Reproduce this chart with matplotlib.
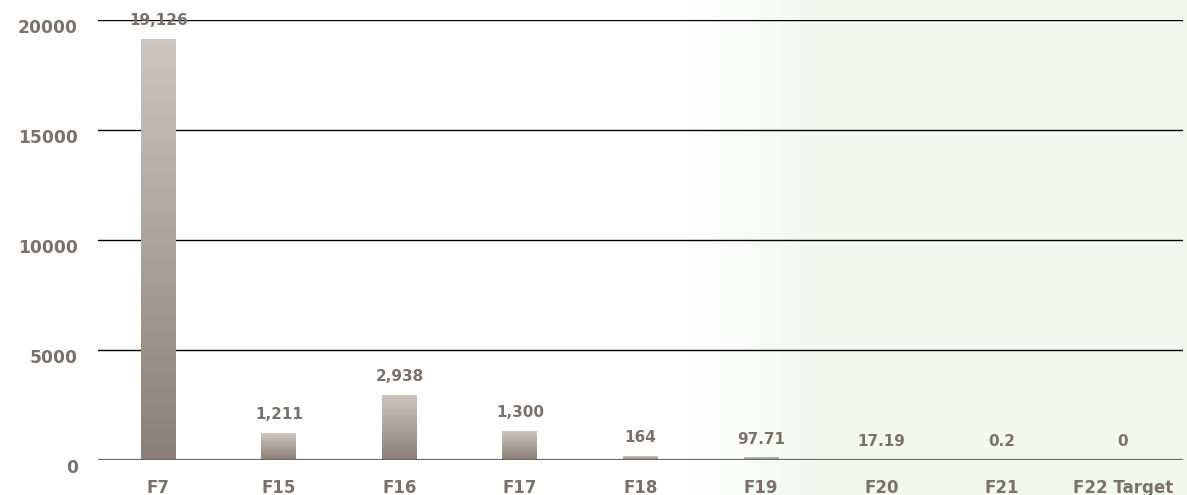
import numpy as np
import matplotlib.pyplot as plt
from matplotlib.colors import LinearSegmentedColormap
from matplotlib.transforms import ScaledTranslation

# Data
categories = ['F7', 'F15', 'F16', 'F17', 'F18', 'F19', 'F20', 'F21', 'F22 Target']
values = [19126, 1211, 2938, 1300, 164, 97.71, 17.19, 0.2, 0]
value_labels = ['19,126', '1,211', '2,938', '1,300', '164', '97.71', '17.19', '0.2', '0']
y_ticks = [0, 5000, 10000, 15000, 20000]

text_color = '#7a716b'
bar_cmap = LinearSegmentedColormap.from_list('bar', ['#8a7f76', '#cdc5bf'])

fig = plt.figure(figsize=(11.87, 4.95), dpi=100)

# faint greenish background on the right side
bg = fig.add_axes([0, 0, 1, 1], zorder=-1)
xs = np.linspace(0, 1, 400)
alpha = np.clip((xs - 0.58) / 0.1, 0, 1)
rgba = np.ones((1, 400, 4))
rgba[..., 0] = 1 - alpha * 0.05
rgba[..., 1] = 1 - alpha * 0.025
rgba[..., 2] = 1 - alpha * 0.055
bg.imshow(rgba, aspect='auto', extent=(0, 1, 0, 1))
bg.set_axis_off()

ax = fig.add_axes([98 / 1187, 1 - 460 / 495, 1085 / 1187, 440 / 495])
ax.patch.set_alpha(0)

x = np.arange(len(categories))
width = 0.29
grad = np.linspace(0, 1, 256).reshape(-1, 1)
for xi, v in zip(x, values):
    if v > 0:
        ax.imshow(grad, cmap=bar_cmap, origin='lower', aspect='auto',
                  extent=(xi - width / 2, xi + width / 2, 0, v), zorder=3)

for xi, v, lab in zip(x, values, value_labels):
    ax.annotate(lab, (xi, v), xytext=(0, 8), textcoords='offset points',
                ha='center', va='bottom', fontsize=11, fontweight='bold',
                color=text_color, annotation_clip=False)

ax.set_xlim(-0.5, len(categories) - 0.5)
ax.set_ylim(0, 20000)
ax.set_yticks(y_ticks)
ax.set_yticklabels([str(t) for t in y_ticks])
ax.set_xticks(x)
ax.set_xticklabels(categories)

for t in y_ticks[1:]:
    ax.axhline(t, color='black', linewidth=1.0, zorder=1)
ax.axhline(0, color='#6e6a66', linewidth=1.6, zorder=4)

for s in ax.spines.values():
    s.set_visible(False)
ax.tick_params(length=0)
ax.tick_params(axis='y', pad=14.5, labelsize=12.3, labelcolor=text_color)
ax.tick_params(axis='x', pad=13.5, labelsize=12, labelcolor=text_color)
shift = ScaledTranslation(0, -6 / 100, fig.dpi_scale_trans)
for lab in ax.get_yticklabels():
    lab.set_fontweight('bold')
    lab.set_transform(lab.get_transform() + shift)
for lab in ax.get_xticklabels():
    lab.set_fontweight('bold')

fig.savefig('out.png', dpi=100)
